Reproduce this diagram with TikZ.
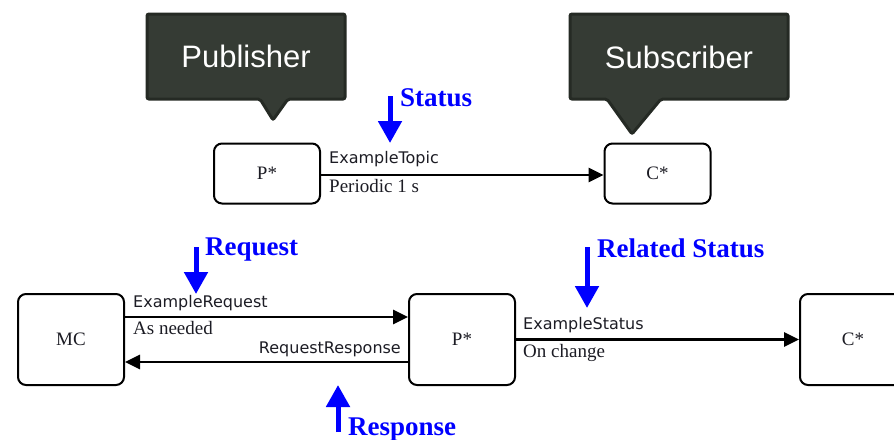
\documentclass[tikz,border=0pt]{standalone}
\usepackage{fontspec}
\setmainfont{Liberation Serif}
\newfontfamily\labelsans{DejaVu Sans}
\newfontfamily\tagsans{Liberation Sans}
\usetikzlibrary{arrows.meta}
\definecolor{tagfill}{HTML}{353B34}
\definecolor{tagedge}{HTML}{252A24}
\definecolor{ink}{HTML}{1C1C24}
\definecolor{pureblue}{HTML}{0000FF}
\tikzset{
  entity/.style={draw=black, line width=2pt, rounded corners=8pt, fill=white,
    minimum width=106pt, minimum height=60pt, inner sep=0pt,
    font=\fontsize{19}{21}\selectfont, text=ink},
  bigentity/.style={entity, minimum height=91pt},
  flow/.style={draw=black, line width=2.8pt, -{Triangle[length=15pt,width=14pt]}},
  topicname/.style={font=\labelsans\fontsize{16}{18}\selectfont, text=ink, inner sep=0pt},
  rate/.style={font=\fontsize{19}{21}\selectfont, text=ink, inner sep=0pt},
  cue/.style={draw=pureblue, line width=5pt, -{Triangle[length=22pt,width=23pt]}},
  cuetext/.style={font=\bfseries\fontsize{27}{29}\selectfont, text=pureblue, inner sep=0pt},
  tag/.style={fill=tagfill, draw=tagedge, line width=3pt, rounded corners=2pt},
  tagtext/.style={font=\tagsans\fontsize{31}{33}\selectfont, text=white, inner sep=0pt}
}
\begin{document}
\begin{tikzpicture}[x=1pt,y=-1pt]
\useasboundingbox (0,0) rectangle (894,439);

% speech-bubble tags
\draw[tag] (147,14) -- (345,14) -- (345,99) -- (288,99) -- (273,120) -- (260,99) -- (147,99) -- cycle;
\node[tagtext, anchor=base] (pubtag) at (246,67) {Publisher};
\draw[tag] (570,14) -- (788,14) -- (788,99) -- (661,99) -- (632,134) -- (607,99) -- (570,99) -- cycle;
\node[tagtext, anchor=base] (subtag) at (679,68) {Subscriber};

% top row: periodic topic
\node[entity] (ptop) at (267,173.5) {P*};
\node[entity] (ctop) at (657.5,173.5) {C*};
\draw[flow] ([yshift=-1.5pt]ptop.east) -- ([yshift=-1.5pt]ctop.west);
\node[topicname, anchor=base west] (tname) at (329,163) {ExampleTopic};
\node[rate, anchor=base west] (trate) at (329,192) {Periodic 1 s};

\coordinate (stA) at (390,96);
\coordinate (stB) at (390,143);
\draw[cue] (stA) -- (stB);
\node[cuetext, anchor=base west] (stlbl) at (400,106) {Status};

% bottom row: request/response and related status
\node[bigentity] (mc) at (71,339.5) {MC};
\node[bigentity] (pmid) at (462,339.5) {P*};
\node[bigentity] (cright) at (853,339.5) {C*};

\draw[flow] ([yshift=22.5pt]mc.east) -- ([yshift=22.5pt]pmid.west);
\draw[flow] ([yshift=-22.5pt]pmid.west) -- ([yshift=-22.5pt]mc.east);
\draw[flow] (pmid.east) -- (cright.west);

\node[topicname, anchor=base west] (rqname) at (133,307) {ExampleRequest};
\node[rate, anchor=base west] (rqrate) at (133,334) {As needed};
\node[topicname, anchor=base east] (rsname) at (401,353) {RequestResponse};
\node[topicname, anchor=base west] (esname) at (523,329) {ExampleStatus};
\node[rate, anchor=base west] (esrate) at (523,357) {On change};

\coordinate (rqA) at (196,247);
\coordinate (rqB) at (196,294);
\draw[cue] (rqA) -- (rqB);
\node[cuetext, anchor=base west] (rqlbl) at (205,255) {Request};

\coordinate (rsA) at (587,247);
\coordinate (rsB) at (587,308);
\draw[cue] (rsA) -- (rsB);
\node[cuetext, anchor=base west] (rslbl) at (597,257) {Related Status};

\coordinate (reA) at (338,432);
\coordinate (reB) at (338,385);
\draw[cue] (reA) -- (reB);
\node[cuetext, anchor=base west] (relbl) at (348,435) {Response};
\end{tikzpicture}
\end{document}
